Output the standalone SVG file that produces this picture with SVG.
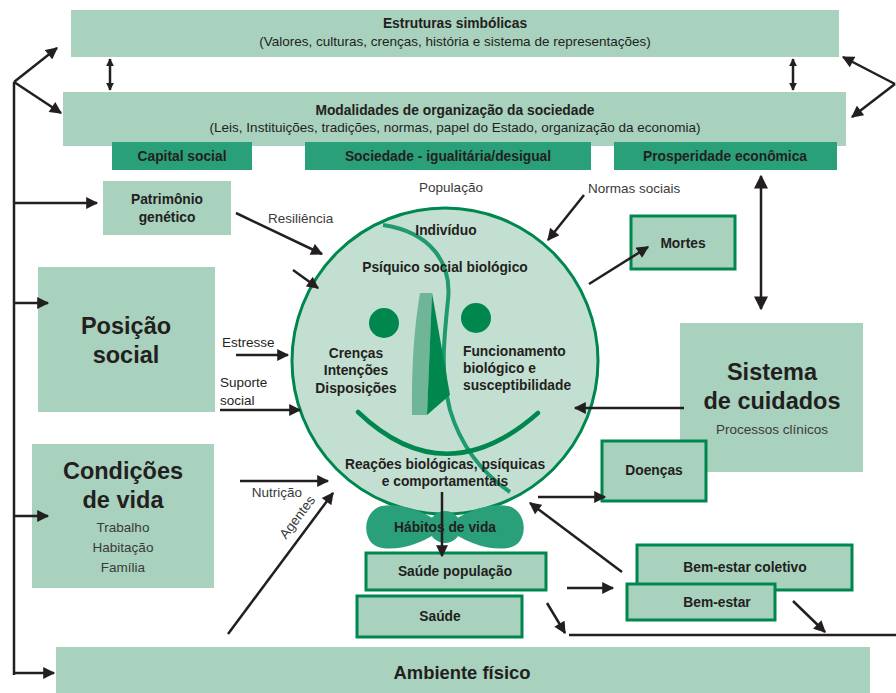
<svg xmlns="http://www.w3.org/2000/svg" width="896" height="693" viewBox="0 0 896 693">
<style>
text{font-family:"Liberation Sans",Arial,sans-serif;fill:#231f20}
.b{font-weight:bold}
.t13{font-size:13.8px}
.t12{font-size:13.5px}
.big{font-size:23.5px;font-weight:bold}
.lbl{font-size:13.5px;fill:#3a3a3a}
.lf{fill:#a8d1be}
.dk{fill:#2aa07a}
.bx{fill:#a8d1be;stroke:#00874e;stroke-width:3}
.ln{stroke:#231f20;stroke-width:2.5;fill:none}
</style>
<defs>
<marker id="ah" viewBox="0 0 10 10" refX="9" refY="5" markerWidth="13" markerHeight="12" markerUnits="userSpaceOnUse" orient="auto"><path d="M0,0 L10,5 L0,10 z" fill="#231f20"/></marker>
<marker id="sm" viewBox="0 0 10 10" refX="9" refY="5" markerWidth="8" markerHeight="8" markerUnits="userSpaceOnUse" orient="auto-start-reverse"><path d="M0,0 L10,5 L0,10 z" fill="#231f20"/></marker>
<marker id="bg" viewBox="0 0 10 10" refX="9" refY="5" markerWidth="14" markerHeight="16" markerUnits="userSpaceOnUse" orient="auto-start-reverse"><path d="M0,0 L10,5 L0,10 z" fill="#231f20"/></marker>
</defs>

<g id="estruturas">
<rect class="lf" x="71" y="10" width="768" height="47"/>
<text class="b t13" x="455" y="28" text-anchor="middle">Estruturas simbólicas</text>
<text class="t12" x="455" y="46" text-anchor="middle">(Valores, culturas, crenças, história e sistema de representações)</text>
</g>

<g id="modalidades">
<rect class="lf" x="63" y="92" width="783" height="54"/>
<text class="b t13" x="455" y="115" text-anchor="middle">Modalidades de organização da sociedade</text>
<text class="t12" x="455" y="132" text-anchor="middle">(Leis, Instituições, tradições, normas, papel do Estado, organização da economia)</text>
</g>

<g id="capital">
<rect class="dk" x="112" y="142" width="140" height="28"/>
<text class="b t13" x="182" y="161" text-anchor="middle">Capital social</text>
</g>
<g id="sociedade">
<rect class="dk" x="305" y="142" width="286" height="28"/>
<text class="b t13" x="448" y="161" text-anchor="middle">Sociedade - igualitária/desigual</text>
</g>
<g id="prosperidade">
<rect class="dk" x="614" y="142" width="223" height="28"/>
<text class="b t13" x="725" y="161" text-anchor="middle">Prosperidade econômica</text>
</g>

<g id="patrimonio">
<rect class="lf" x="103" y="181" width="128" height="54"/>
<text class="b t13" x="167" y="204" text-anchor="middle">Patrimônio</text>
<text class="b t13" x="167" y="222" text-anchor="middle">genético</text>
</g>

<g id="posicao">
<rect class="lf" x="38" y="267" width="177" height="145"/>
<text class="big" x="126" y="334" text-anchor="middle">Posição</text>
<text class="big" x="126" y="363" text-anchor="middle">social</text>
</g>

<g id="condicoes">
<rect class="lf" x="32" y="444" width="182" height="144"/>
<text class="big" x="123" y="479" text-anchor="middle">Condições</text>
<text class="big" x="123" y="508" text-anchor="middle">de vida</text>
<text class="lbl" x="123" y="532" text-anchor="middle">Trabalho</text>
<text class="lbl" x="123" y="552" text-anchor="middle">Habitação</text>
<text class="lbl" x="123" y="572" text-anchor="middle">Família</text>
</g>

<g id="individuo">
<circle cx="445" cy="361" r="153" fill="#c3dfd2" stroke="#00874e" stroke-width="3"/>
<path d="M383,225 C430,232 452,262 448,300 C444,340 440,370 450,410 C462,450 485,475 510,492" fill="none" stroke="#1e9a6e" stroke-width="4"/>
<circle cx="384" cy="323" r="15" fill="#00874e"/>
<circle cx="476" cy="318" r="15" fill="#00874e"/>
<path d="M358,412 Q445,495 538,413" fill="none" stroke="#00874e" stroke-width="4.5" stroke-linecap="round"/>
<path d="M420,293 L432,293 L427,415 L412,415 Q411,345 420,293 Z" fill="#6fb598"/>
<path d="M432,293 L450,395 L427,415 Z" fill="#00874e"/>
<text class="b t13" x="446" y="235" text-anchor="middle">Indivíduo</text>
<text class="b t13" x="445" y="272" text-anchor="middle">Psíquico social biológico</text>
<text class="b t13" x="356" y="358" text-anchor="middle">Crenças</text>
<text class="b t13" x="356" y="375" text-anchor="middle">Intenções</text>
<text class="b t13" x="356" y="393" text-anchor="middle">Disposições</text>
<text class="b t13" x="463" y="356">Funcionamento</text>
<text class="b t13" x="463" y="373">biológico e</text>
<text class="b t13" x="463" y="390">susceptibilidade</text>
<text class="b t13" x="445" y="469" text-anchor="middle">Reações biológicas, psíquicas</text>
<text class="b t13" x="445" y="486" text-anchor="middle">e comportamentais</text>
</g>

<g id="habitos">
<path d="M445,527 C425,510 400,503 382,506 C362,510 360,545 382,548 C400,551 425,543 445,527 Z" fill="#2aa07a"/>
<path d="M445,527 C465,510 490,503 508,506 C528,510 530,545 508,548 C490,551 465,543 445,527 Z" fill="#2aa07a"/>
<circle cx="445" cy="527" r="16" fill="#2aa07a"/>
<text class="b t13" x="445" y="532" text-anchor="middle">Hábitos de vida</text>
</g>

<g id="mortes">
<rect class="bx" x="631" y="216" width="104" height="53"/>
<text class="b t13" x="683" y="248" text-anchor="middle">Mortes</text>
</g>

<g id="sistema">
<rect class="lf" x="680" y="323" width="183" height="149"/>
<text class="big" x="772" y="380" text-anchor="middle">Sistema</text>
<text class="big" x="772" y="409" text-anchor="middle">de cuidados</text>
<text class="lbl" x="772" y="434" text-anchor="middle">Processos clínicos</text>
</g>

<g id="doencas">
<rect class="bx" x="602" y="441" width="104" height="60"/>
<text class="b t13" x="654" y="475" text-anchor="middle">Doenças</text>
</g>

<g id="saude-populacao">
<rect class="bx" x="366" y="553" width="180" height="37"/>
<text class="b t13" x="455" y="576" text-anchor="middle">Saúde população</text>
</g>
<g id="saude">
<rect class="bx" x="357" y="596" width="165" height="41"/>
<text class="b t13" x="440" y="621" text-anchor="middle">Saúde</text>
</g>

<g id="bem-estar-coletivo">
<rect class="bx" x="637" y="545" width="215" height="45"/>
<text class="b t13" x="745" y="572" text-anchor="middle">Bem-estar coletivo</text>
</g>
<g id="bem-estar">
<rect class="bx" x="627" y="584" width="148" height="36"/>
<text class="b t13" x="717" y="607" text-anchor="middle">Bem-estar</text>
</g>

<g id="ambiente">
<rect class="lf" x="56" y="647" width="814" height="46"/>
<text class="b" x="462" y="679" text-anchor="middle" style="font-size:18.4px">Ambiente físico</text>
</g>

<g id="labels">
<text class="lbl" x="451" y="192" text-anchor="middle">População</text>
<text class="lbl" x="588" y="193">Normas sociais</text>
<text class="lbl" x="268" y="223">Resiliência</text>
<text class="t12" x="222" y="347">Estresse</text>
<text class="t12" x="220" y="387">Suporte</text>
<text class="t12" x="220" y="405">social</text>
<text class="lbl" x="277" y="497" text-anchor="middle">Nutrição</text>
<text class="lbl" x="301" y="520" text-anchor="middle" transform="rotate(-53 301 520)">Agentes</text>
</g>

<g id="connectors">
<path class="ln" d="M14,675 L14,82" stroke-width="3"/>
<path class="ln" d="M14,82 L57,48" stroke-width="3" marker-end="url(#ah)"/>
<path class="ln" d="M14,82 L61,113" stroke-width="3" marker-end="url(#ah)"/>
<path class="ln" d="M14,203 L97,203" stroke-width="3" marker-end="url(#ah)"/>
<path class="ln" d="M14,303 L48,303" stroke-width="3" marker-end="url(#ah)"/>
<path class="ln" d="M14,516 L48,516" stroke-width="3" marker-end="url(#ah)"/>
<path class="ln" d="M13,673 L54,673" stroke-width="3" marker-end="url(#ah)"/>
<path class="ln" d="M895,84 L843,57" stroke-width="3" marker-end="url(#ah)"/>
<path class="ln" d="M895,84 L852,117" stroke-width="3" marker-end="url(#ah)"/>
<path class="ln" d="M110,59 L110,90" stroke-width="1.5" marker-start="url(#sm)" marker-end="url(#sm)"/>
<path class="ln" d="M793,59 L793,90" stroke-width="1.5" marker-start="url(#sm)" marker-end="url(#sm)"/>
<path class="ln" d="M761,176 L761,309" stroke-width="4" marker-start="url(#bg)" marker-end="url(#bg)"/>
<path class="ln" d="M236,213 L322,254" marker-end="url(#ah)"/>
<path class="ln" d="M293,270 L318,288" marker-end="url(#ah)"/>
<path class="ln" d="M584,195 L548,240" marker-end="url(#ah)"/>
<path class="ln" d="M589,284 L648,247" marker-end="url(#ah)"/>
<path class="ln" d="M684,408 L575,408" marker-end="url(#ah)"/>
<path class="ln" d="M236,355 L288,355" marker-end="url(#ah)"/>
<path class="ln" d="M220,410 L300,410" marker-end="url(#ah)"/>
<path class="ln" d="M240,481 L328,481" marker-end="url(#ah)"/>
<path class="ln" d="M228,634 L333,493" marker-end="url(#ah)"/>
<path class="ln" d="M442,492 L442,556" stroke-width="2" marker-end="url(#ah)"/>
<path class="ln" d="M538,497 L605,497" marker-end="url(#ah)"/>
<path class="ln" d="M622,572 L530,503" marker-end="url(#ah)"/>
<path class="ln" d="M567,588 L613,588" marker-end="url(#ah)"/>
<path class="ln" d="M547,603 L565,633" marker-end="url(#ah)"/>
<path class="ln" d="M569,635 L896,635"/>
<path class="ln" d="M793,601 L825,632" marker-end="url(#ah)"/>
</g>
</svg>
